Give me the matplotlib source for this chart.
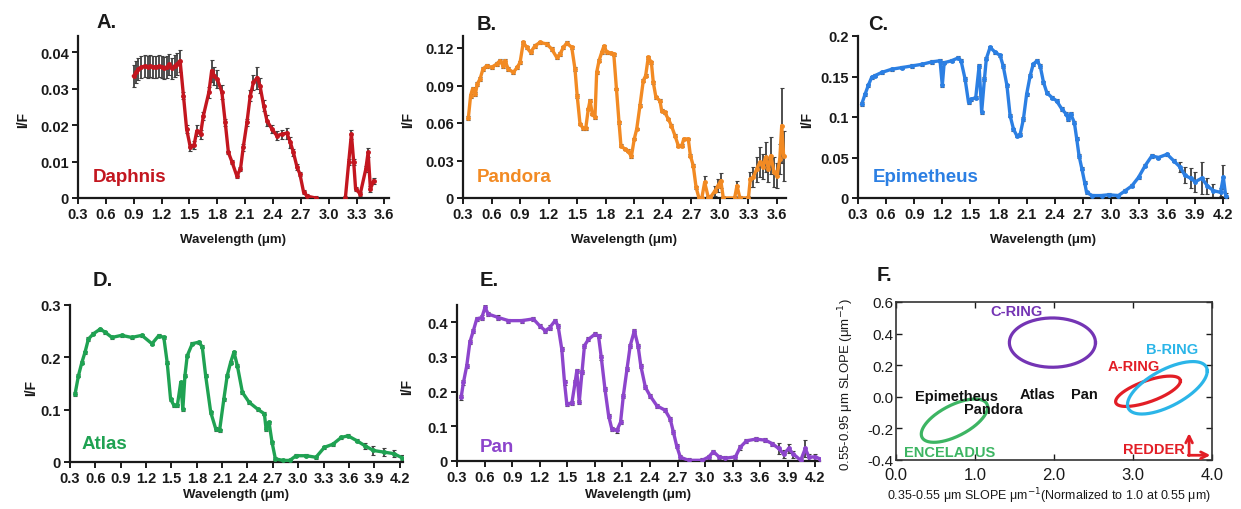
import numpy as np
import matplotlib
matplotlib.use("Agg")
import matplotlib.pyplot as plt

plt.rcParams['font.family'] = ['Liberation Sans', 'DejaVu Sans']

# ---------------- data ----------------
# A. Daphnis
daphnis_wl = [0.90, 0.93, 0.95, 0.98, 1.02, 1.05, 1.08, 1.11, 1.14, 1.17, 1.20, 1.23, 1.26, 1.28, 1.31,
              1.34, 1.37, 1.40, 1.436, 1.47, 1.51, 1.55, 1.58, 1.62, 1.65, 1.71, 1.74, 1.77, 1.80, 1.85,
              1.886, 1.92, 1.96, 2.01, 2.05, 2.08, 2.12, 2.155, 2.19, 2.23, 2.26, 2.30, 2.335, 2.39, 2.44,
              2.50, 2.55, 2.587, 2.62, 2.66, 2.69, 2.73, 2.77, 2.86]
daphnis_iof = [0.0335, 0.0345, 0.0353, 0.0358, 0.0362, 0.0360, 0.0361, 0.0360, 0.0359, 0.0361, 0.0358,
               0.0356, 0.0360, 0.0366, 0.0355, 0.0362, 0.0368, 0.0376, 0.0280, 0.0189, 0.0139, 0.0145,
               0.0184, 0.0175, 0.0225, 0.0290, 0.0349, 0.0335, 0.0326, 0.0290, 0.0207, 0.0125, 0.0098,
               0.0061, 0.0079, 0.0139, 0.0207, 0.0280, 0.0317, 0.0330, 0.0308, 0.0253, 0.0212, 0.0189,
               0.0171, 0.0175, 0.0178, 0.0153, 0.0125, 0.0084, 0.0066, 0.0016, 0.0005, 0.0]
daphnis_err = [0.003] * 18 + [0.001, 0.001, 0.001, 0.001, 0.0015, 0.0012, 0.001, 0.0015, 0.003, 0.0025,
                              0.0025, 0.002, 0.001, 0.0005, 0.0005, 0.0005, 0.0005, 0.001, 0.001, 0.0015,
                              0.002, 0.003, 0.002, 0.0015, 0.0015, 0.0012, 0.0012, 0.0012, 0.0015, 0.0015,
                              0.001, 0.0008, 0.0005, 0.0005, 0.0005, 0.0005]
daphnis_wl2 = [3.18, 3.216, 3.245, 3.27, 3.29, 3.34, 3.40, 3.425, 3.45, 3.485]
daphnis_iof2 = [0.0, 0.0098, 0.0175, 0.0098, 0.0025, 0.0011, 0.0079, 0.0125, 0.0025, 0.0047]
daphnis_err2 = [0.0005, 0.0008, 0.0012, 0.0008, 0.0005, 0.0005, 0.0008, 0.0012, 0.0008, 0.0008]

# B. Pandora
pandora_wl = [0.356, 0.38, 0.40, 0.43, 0.45, 0.479, 0.51, 0.55, 0.60, 0.654, 0.689, 0.72, 0.741, 0.776,
              0.829, 0.87, 0.90, 0.934, 0.97, 1.01, 1.057, 1.11, 1.18, 1.232, 1.285, 1.32, 1.355, 1.39,
              1.443, 1.477, 1.50, 1.53, 1.564, 1.59, 1.617, 1.635, 1.66, 1.687, 1.705, 1.73, 1.758, 1.78,
              1.815, 1.86, 1.885, 1.913, 1.94, 1.96, 2.00, 2.03, 2.07, 2.10, 2.126, 2.16, 2.195, 2.22,
              2.247, 2.28, 2.30, 2.328, 2.37, 2.388, 2.42, 2.458, 2.49, 2.528, 2.563, 2.60, 2.62, 2.668,
              2.69, 2.72, 2.75, 2.78, 2.81, 2.84, 2.88, 2.90, 2.95, 2.98, 3.01, 3.036, 3.155, 3.18, 3.21,
              3.30, 3.32, 3.35, 3.387, 3.42, 3.45, 3.48, 3.51, 3.535, 3.57, 3.60, 3.63, 3.65, 3.67]
pandora_iof = [0.0638, 0.0819, 0.0872, 0.0832, 0.0912, 0.0952, 0.1032, 0.1059, 0.1045, 0.1072, 0.1099,
               0.1059, 0.1099, 0.1032, 0.1005, 0.1045, 0.1085, 0.1245, 0.1205, 0.1165, 0.1218, 0.1245,
               0.1232, 0.1192, 0.1125, 0.1152, 0.1205, 0.1240, 0.1205, 0.1032, 0.0819, 0.0592, 0.0557,
               0.0557, 0.0712, 0.0779, 0.0672, 0.0645, 0.1005, 0.1099, 0.1165, 0.1213, 0.1165, 0.1160,
               0.1150, 0.0872, 0.0605, 0.0419, 0.0392, 0.0379, 0.0333, 0.0472, 0.0552, 0.0739, 0.0939,
               0.0979, 0.1125, 0.1085, 0.0925, 0.0805, 0.0779, 0.0699, 0.0685, 0.0632, 0.0579, 0.0499,
               0.0419, 0.0419, 0.0472, 0.0472, 0.0339, 0.0259, 0.0085, 0.0, 0.0, 0.0125, 0.0, 0.0005,
               0.0059, 0.0099, 0.0139, 0.0, 0.0, 0.0099, 0.0, 0.0, 0.0152, 0.0165, 0.0232, 0.0285, 0.0250,
               0.0325, 0.0232, 0.0339, 0.0205, 0.0179, 0.0312, 0.0579, 0.0339]
pandora_err = [0.0015] * 31 + [0.001] * 42 + [0.001, 0.001, 0.005, 0.002, 0.002, 0.004, 0.005, 0.006,
                                               0.002, 0.002, 0.004, 0.002, 0.002, 0.006, 0.008, 0.010,
                                               0.012, 0.010, 0.012, 0.010, 0.015, 0.012, 0.010, 0.012,
                                               0.030, 0.020]

# C. Epimetheus
epimetheus_wl = [0.34, 0.375, 0.41, 0.446, 0.48, 0.553, 0.66, 0.767, 0.874, 0.98, 1.087, 1.176, 1.20,
                 1.22, 1.30, 1.37, 1.40, 1.443, 1.48, 1.51, 1.557, 1.593, 1.62, 1.65, 1.67, 1.71, 1.764,
                 1.817, 1.85, 1.89, 1.924, 1.96, 1.995, 2.03, 2.066, 2.10, 2.138, 2.17, 2.21, 2.245, 2.28,
                 2.316, 2.37, 2.42, 2.475, 2.52, 2.546, 2.57, 2.61, 2.635, 2.66, 2.69, 2.72, 2.74, 2.80,
                 2.90, 2.975, 3.08, 3.153, 3.224, 3.295, 3.366, 3.437, 3.508, 3.60, 3.67, 3.74, 3.79, 3.85,
                 3.90, 3.97, 4.03, 4.095, 4.17, 4.20, 4.225]
epimetheus_iof = [0.116, 0.128, 0.139, 0.149, 0.151, 0.155, 0.159, 0.161, 0.163, 0.165, 0.168, 0.1695,
                  0.139, 0.167, 0.1695, 0.173, 0.1695, 0.147, 0.118, 0.122, 0.124, 0.163, 0.106, 0.147,
                  0.172, 0.186, 0.180, 0.176, 0.163, 0.139, 0.1016, 0.085, 0.077, 0.078, 0.0975, 0.128,
                  0.151, 0.165, 0.1695, 0.163, 0.143, 0.130, 0.124, 0.120, 0.110, 0.104, 0.0975, 0.104,
                  0.093, 0.073, 0.052, 0.036, 0.019, 0.007, 0.003, 0.003, 0.004, 0.003, 0.009, 0.015,
                  0.0255, 0.040, 0.052, 0.050, 0.054, 0.046, 0.038, 0.028, 0.0245, 0.020, 0.0245, 0.015,
                  0.009, 0.007, 0.0255, 0.003]
epimetheus_err = [0.002] * 66 + [0.006, 0.010, 0.012, 0.012, 0.020, 0.010, 0.008, 0.005, 0.015, 0.003]

# D. Atlas
atlas_wl = [0.36, 0.40, 0.44, 0.478, 0.518, 0.577, 0.657, 0.716, 0.796, 0.91, 1.03, 1.15, 1.27, 1.35,
            1.41, 1.45, 1.49, 1.53, 1.57, 1.61, 1.635, 1.66, 1.687, 1.747, 1.825, 1.865, 1.905, 1.965,
            2.025, 2.07, 2.12, 2.16, 2.20, 2.24, 2.28, 2.34, 2.42, 2.52, 2.60, 2.62, 2.655, 2.69, 2.73,
            2.82, 2.90, 2.975, 3.094, 3.21, 3.31, 3.41, 3.51, 3.59, 3.69, 3.79, 3.89, 4.01, 4.13, 4.23]
atlas_iof = [0.130, 0.165, 0.190, 0.210, 0.235, 0.245, 0.254, 0.248, 0.238, 0.242, 0.238, 0.242, 0.226,
             0.2415, 0.238, 0.190, 0.120, 0.108, 0.108, 0.152, 0.101, 0.165, 0.203, 0.226, 0.229, 0.220,
             0.165, 0.095, 0.063, 0.0605, 0.120, 0.165, 0.190, 0.210, 0.184, 0.133, 0.114, 0.101, 0.092,
             0.063, 0.076, 0.038, 0.006, 0.003, 0.003, 0.012, 0.012, 0.009, 0.028, 0.034, 0.047, 0.050,
             0.041, 0.031, 0.022, 0.019, 0.016, 0.008]
atlas_err = [0.003] * 53 + [0.006, 0.008, 0.008, 0.007, 0.005]

# E. Pan
pan_wl = [0.345, 0.37, 0.406, 0.44, 0.478, 0.515, 0.57, 0.605, 0.64, 0.75, 0.86, 1.005, 1.13, 1.20, 1.26,
          1.31, 1.367, 1.40, 1.44, 1.47, 1.495, 1.55, 1.585, 1.604, 1.63, 1.66, 1.687, 1.73, 1.80, 1.84,
          1.87, 1.91, 1.95, 1.985, 2.04, 2.08, 2.11, 2.15, 2.185, 2.23, 2.27, 2.30, 2.35, 2.40, 2.475,
          2.565, 2.62, 2.655, 2.69, 2.73, 2.82, 2.97, 3.04, 3.09, 3.15, 3.22, 3.33, 3.38, 3.45, 3.55,
          3.655, 3.73, 3.80, 3.855, 3.91, 3.96, 4.04, 4.09, 4.13, 4.20, 4.25]
pan_iof = [0.183, 0.226, 0.274, 0.342, 0.375, 0.409, 0.413, 0.442, 0.423, 0.413, 0.404, 0.404, 0.409, 0.389,
           0.375, 0.384, 0.404, 0.389, 0.322, 0.226, 0.164, 0.167, 0.226, 0.260, 0.169, 0.255, 0.332,
           0.350, 0.365, 0.360, 0.298, 0.207, 0.130, 0.092, 0.088, 0.112, 0.188, 0.265, 0.332, 0.375,
           0.332, 0.274, 0.212, 0.188, 0.159, 0.146, 0.121, 0.083, 0.044, 0.011, 0.002, 0.002, 0.012,
           0.027, 0.012, 0.008, 0.012, 0.039, 0.058, 0.063, 0.060, 0.050, 0.036, 0.020, 0.036, 0.020,
           0.002, 0.036, 0.011, 0.012, 0.006]
pan_err = [0.006] * 62 + [0.015, 0.012, 0.012, 0.010, 0.008, 0.025, 0.010, 0.008, 0.004]

# tick labels
xticks_short = ['0.3', '0.6', '0.9', '1.2', '1.5', '1.8', '2.1', '2.4', '2.7', '3.0', '3.3', '3.6']
xticks_long = xticks_short + ['3.9', '4.2']
yt_A = ['0', '0.01', '0.02', '0.03', '0.04']
yt_B = ['0', '0.03', '0.06', '0.09', '0.12']
yt_C = ['0', '0.05', '0.1', '0.15', '0.2']
yt_D = ['0', '0.1', '0.2', '0.3']
yt_E = ['0', '0.1', '0.2', '0.3', '0.4']

# F. slope ellipses: centre, half x-extent, half y-extent, x-y correlation (0 = untilted)
ring_names = ['C-RING', 'A-RING', 'B-RING', 'ENCELADUS']
ring_cx = [1.98, 3.19, 3.435, 0.74]
ring_cy = [0.343, 0.035, 0.057, -0.151]
ring_hx = [0.545, 0.41, 0.505, 0.42]
ring_hy = [0.156, 0.096, 0.166, 0.137]
ring_tilt = [0.0, 0.68, 0.64, 0.62]
ring_colors = ['#7434b4', '#e21e26', '#2bb5e8', '#3db563']
ring_label_x = [1.53, 3.01, 3.5, 0.68]
ring_label_y = [0.54, 0.193, 0.30, -0.352]
moon_names = ['Epimetheus', 'Pandora', 'Atlas', 'Pan']
moon_x = [0.77, 1.23, 1.79, 2.38]
moon_y = [0.008, -0.075, 0.018, 0.018]

# ---------------- figure ----------------
W, H = 1241, 510
fig = plt.figure(figsize=(W / 100, H / 100), dpi=100)


def axes_px(l, t, r, b):
    return fig.add_axes([l / W, 1 - b / H, (r - l) / W, (b - t) / H])


def ftext(x, y, s, **kw):
    fig.text(x / W, 1 - y / H, s, **kw)


def spectrum(ax, wl, iof, err, color):
    ax.errorbar(wl, iof, yerr=err, fmt='none', ecolor='#404040', elinewidth=1.3,
                capsize=1.2, capthick=0.8, zorder=2)
    ax.plot(wl, iof, '-', color=color, lw=2.4, marker='o', ms=2.5, zorder=3)


def style(ax, xmax, ymax, ylabels, xlabels):
    ax.set_xlim(0.3, xmax)
    ax.set_ylim(0, ymax)
    xv = [float(s) for s in xlabels]
    ax.set_xticks(xv)
    ax.set_xticklabels(xlabels)
    yv = [float(s) for s in ylabels]
    ax.set_yticks(yv)
    ax.set_yticklabels(ylabels)
    for s in ['top', 'right']:
        ax.spines[s].set_visible(False)
    for s in ['left', 'bottom']:
        ax.spines[s].set_linewidth(1.6)
        ax.spines[s].set_color('#1a1a1a')
    ax.tick_params(direction='out', length=4, width=1.4, labelsize=10.5, pad=2.5, colors='#1a1a1a')
    for lab in ax.get_xticklabels() + ax.get_yticklabels():
        lab.set_fontweight('bold')
    ax.patch.set_alpha(0)


bold = dict(fontweight='bold', color='#1a1a1a')

# A
axA = axes_px(78, 37, 389, 199)
spectrum(axA, daphnis_wl, daphnis_iof, daphnis_err, '#c3161f')
spectrum(axA, daphnis_wl2, daphnis_iof2, daphnis_err2, '#c3161f')
style(axA, 3.65, 0.0444, yt_A, xticks_short)

# B
axB = axes_px(463, 37, 786, 199)
spectrum(axB, pandora_wl, pandora_iof, pandora_err, '#f28a23')
style(axB, 3.695, 0.1296, yt_B, xticks_short)

# C
axC = axes_px(858, 37, 1228, 199)
spectrum(axC, epimetheus_wl, epimetheus_iof, epimetheus_err, '#2b7fe3')
style(axC, 4.25, 0.2, yt_C, xticks_long)

# D
axD = axes_px(70, 306, 403, 463)
spectrum(axD, atlas_wl, atlas_iof, atlas_err, '#1fa252')
style(axD, 4.24, 0.3, yt_D, xticks_long)

# E
axE = axes_px(457, 306, 820, 462)
spectrum(axE, pan_wl, pan_iof, pan_err, '#8d45cc')
style(axE, 4.25, 0.449, yt_E, xticks_long)

# panel letters
for x, y, s in [(97, 22, 'A.'), (477, 24, 'B.'), (868, 24, 'C.'), (93, 280, 'D.'), (480, 280, 'E.')]:
    ftext(x, y, s, fontsize=14.5, ha='left', va='center', **bold)

# names
ftext(93, 177, 'Daphnis', fontsize=13.5, fontweight='bold', color='#c3161f', va='center')
ftext(477, 177, 'Pandora', fontsize=13.5, fontweight='bold', color='#f28a23', va='center')
ftext(873, 177, 'Epimetheus', fontsize=13.5, fontweight='bold', color='#2b7fe3', va='center')
ftext(82, 445, 'Atlas', fontsize=13.5, fontweight='bold', color='#1fa252', va='center')
ftext(480, 448, 'Pan', fontsize=13.5, fontweight='bold', color='#8d45cc', va='center')

# axis labels
for cx, cy in [(233, 240), (624, 240), (1043, 240), (236, 495), (638, 495)]:
    ftext(cx, cy, 'Wavelength (\u03bcm)', fontsize=9.5, ha='center', va='center', **bold)
for cx, cy in [(23, 120), (408, 120), (807, 120), (31, 388), (407, 387)]:
    ftext(cx, cy, 'I/F', fontsize=10, ha='center', va='center', rotation=90, **bold)

# F
axF = axes_px(896, 303, 1212, 461)
t = np.linspace(0, 2 * np.pi, 240)
for cx, cy, hx, hy, c, col in zip(ring_cx, ring_cy, ring_hx, ring_hy, ring_tilt, ring_colors):
    phi = np.arccos(c)
    axF.plot(cx + hx * np.cos(t), cy + hy * np.cos(t - phi), color=col, lw=2.3)
axF.set_xlim(0, 4)
axF.set_ylim(-0.4, 0.6)
axF.set_xticks([0, 1, 2, 3, 4])
axF.set_xticklabels(['0.0', '1.0', '2.0', '3.0', '4.0'], fontsize=12)
axF.set_yticks([-0.4, -0.2, 0.0, 0.2, 0.4, 0.6])
axF.set_yticklabels(['-0.4', '-0.2', '0.0', '0.2', '0.4', '0.6'], fontsize=11)
axF.tick_params(direction='in', length=4, width=1.0, top=True, right=True, pad=2, colors='#1a1a1a')
axF.tick_params(axis='x', pad=5)
for s in axF.spines.values():
    s.set_linewidth(1.2)
    s.set_color('#333333')

for name, x, y, col in zip(ring_names, ring_label_x, ring_label_y, ring_colors):
    axF.text(x, y, name, color=col, fontsize=10.5, fontweight='bold', ha='center', va='center')
for name, x, y in zip(moon_names, moon_x, moon_y):
    axF.text(x, y, name, color='#111111', fontsize=10.5, fontweight='bold', ha='center', va='center')
axF.text(3.27, -0.33, 'REDDER', color='#e21e26', fontsize=10.5, fontweight='bold', ha='center', va='center')
axF.annotate('', xy=(3.71, -0.23), xytext=(3.71, -0.372),
             arrowprops=dict(arrowstyle='->', color='#e21e26', lw=2, shrinkA=0, shrinkB=0, mutation_scale=12))
axF.annotate('', xy=(3.98, -0.37), xytext=(3.70, -0.37),
             arrowprops=dict(arrowstyle='->', color='#e21e26', lw=2, shrinkA=0, shrinkB=0, mutation_scale=12))

ftext(877, 276, 'F.', fontsize=14.5, ha='left', va='center', **bold)
ftext(846, 385, '0.55-0.95 \u03bcm SLOPE (\u03bcm$^{-1}$)', fontsize=9.5, rotation=90,
      ha='center', va='center', color='#1a1a1a')
ftext(1049, 496, '0.35-0.55 \u03bcm SLOPE \u03bcm$^{-1}$(Normalized to 1.0 at 0.55 \u03bcm)', fontsize=9,
      ha='center', va='center', color='#1a1a1a')

fig.savefig('out.png', dpi=100)
